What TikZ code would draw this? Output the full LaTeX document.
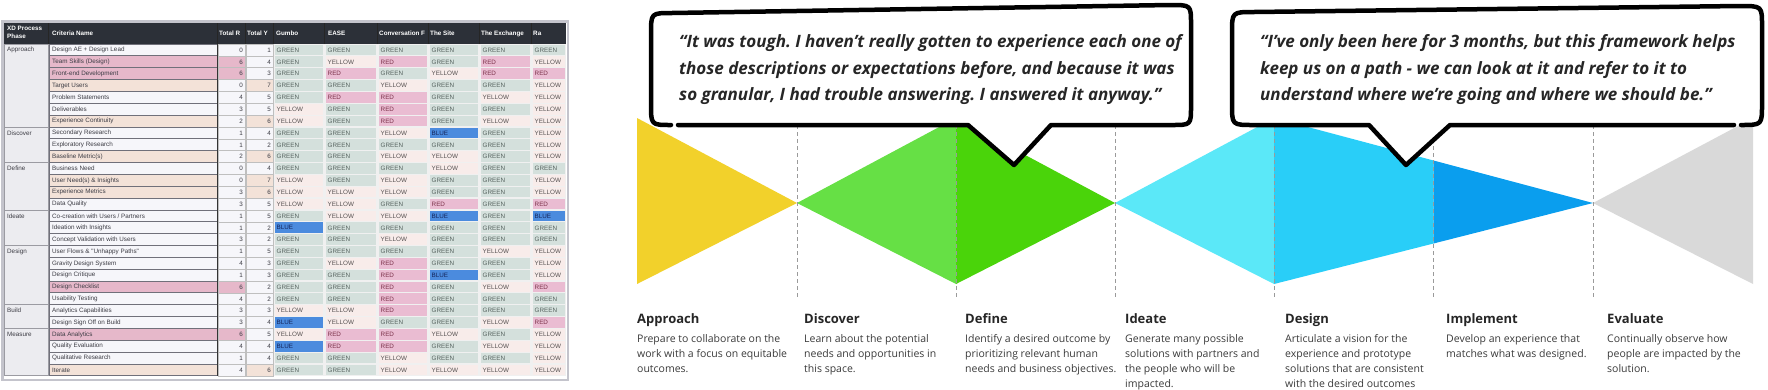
\documentclass[tikz,border=0pt]{standalone}
\usepackage{fontspec}
\setmainfont{Open Sans}
\newfontfamily\tabfont{Liberation Sans}
\frenchspacing
\definecolor{yellowT}{HTML}{F2D12B}
\definecolor{greenL}{HTML}{66E045}
\definecolor{greenD}{HTML}{4AD40A}
\definecolor{cyanL}{HTML}{5BE8F8}
\definecolor{cyanM}{HTML}{29CEF8}
\definecolor{blueD}{HTML}{0A9EEE}
\definecolor{grayT}{HTML}{D9D9D9}
\definecolor{dashC}{HTML}{9A9A9A}
\definecolor{descC}{HTML}{3A3A3A}
\definecolor{frameC}{HTML}{C4C4CC}
\definecolor{headC}{HTML}{2C3038}
\definecolor{phaseC}{HTML}{ECECF0}
\definecolor{gridD}{HTML}{70707A}
\definecolor{cellW}{HTML}{F6F6FA}
\definecolor{critP}{HTML}{E6B8CA}
\definecolor{critT}{HTML}{F3E2D8}
\definecolor{cellG}{HTML}{D4E0DC}
\definecolor{cellY}{HTML}{F8ECEA}
\definecolor{cellR}{HTML}{EABCD2}
\definecolor{cellB}{HTML}{4B8BDE}
\definecolor{txtG}{HTML}{55625E}
\definecolor{txtY}{HTML}{555050}
\definecolor{txtR}{HTML}{7A3048}
\definecolor{txtB}{HTML}{14245A}
\definecolor{tabText}{HTML}{3C3C44}
\def\lblG{GREEN}\def\lblY{YELLOW}\def\lblR{RED}\def\lblB{BLUE}
\tikzset{
  tabtxt/.style={font=\tabfont\fontsize{6.3}{7}\selectfont, inner sep=0pt, text=tabText},
  headtxt/.style={font=\tabfont\bfseries\fontsize{6.3}{7.5}\selectfont, inner sep=0pt, text=white, align=left},
  dashline/.style={draw=dashC, dash pattern=on 4pt off 3pt, line width=0.9pt},
  bubble/.style={fill=white, draw=black, line width=4.5pt, line cap=round, line join=round},
  quotetxt/.style={font=\fontsize{17}{26.5}\selectfont\bfseries\itshape, text=black!85, align=left, inner sep=0pt, anchor=west},
  phaselbl/.style={font=\fontsize{13}{15}\selectfont\bfseries, text=black!85, inner sep=0pt, anchor=base west},
  phasedesc/.style={font=\fontsize{10.5}{15}\selectfont, text=descC, inner sep=0pt, anchor=north west, align=left}
}
\begin{document}
\begin{tikzpicture}[x=1pt,y=-1pt]
\useasboundingbox (0,0) rectangle (1768,389);
% ================= TABLE =================
\fill[frameC] (1,20) rectangle (569,381);
\fill[white] (3.5,22.5) rectangle (566.5,378.5);
\fill[headC] (4,23) rectangle (566,44);
\foreach \xs in {48.5,217.5,245.5,273.5,324.5,377.5,428.5,479.5,531.5}
  \draw[black!85, line width=0.8pt] (\xs,23) -- (\xs,44);
\node[headtxt, anchor=north west] (hPhase) at (7,26) {XD Process\\Phase};
\node[headtxt, anchor=west] (hCrit) at (52,33.5) {Criteria Name};
\node[headtxt, anchor=west] (hR) at (219,33.5) {Total R};
\node[headtxt, anchor=west] (hY) at (247,33.5) {Total Y};
\node[headtxt, anchor=west] (hGumbo) at (276,33.5) {Gumbo};
\node[headtxt, anchor=west] (hEase) at (328,33.5) {EASE};
\node[headtxt, anchor=west] (hConv) at (379,33.5) {Conversation F};
\node[headtxt, anchor=west] (hSite) at (430,33.5) {The Site};
\node[headtxt, anchor=west] (hExch) at (481,33.5) {The Exchange};
\node[headtxt, anchor=west] (hRa) at (533,33.5) {Ra};
% value area background
\fill[black!6] (274,44) rectangle (566,376);
% phase groups
\foreach \ph/\fa/\fb in {Approach/1/7, Discover/8/10, Define/11/14, Ideate/15/17, Design/18/22, Build/23/24, Measure/25/28}{
  \pgfmathsetmacro\gt{44+(\fa-1)*11.85}
  \pgfmathsetmacro\gb{44+\fb*11.85}
  \path[fill=phaseC, draw=gridD!70, line width=0.7pt] (4,\gt) rectangle (48,\gb);
  \node[tabtxt, anchor=west] (ph\ph) at (7,\gt+6) {\ph};
}
% rows
\foreach [count=\i] \nm/\vR/\vY/\ka/\kb/\kc/\kd/\ke/\kf in {
{Design AE + Design Lead}/0/1/G/G/G/G/G/G,
{Team Skills (Design)}/6/4/G/Y/R/G/R/Y,
{Front-end Development}/6/3/G/R/G/Y/R/R,
{Target Users}/0/7/G/G/Y/G/G/Y,
{Problem Statements}/4/5/G/R/R/G/Y/Y,
{Deliverables}/3/5/Y/G/R/G/G/Y,
{Experience Continuity}/2/6/Y/G/R/G/Y/Y,
{Secondary Research}/1/4/G/G/Y/B/G/Y,
{Exploratory Research}/1/2/G/G/G/G/G/Y,
{Baseline Metric(s)}/2/6/G/G/Y/Y/G/Y,
{Business Need}/0/4/G/G/G/Y/G/G,
{User Need(s) \& Insights}/0/7/Y/G/Y/G/G/Y,
{Experience Metrics}/3/6/Y/Y/Y/G/G/Y,
{Data Quality}/3/5/Y/Y/G/R/G/R,
{Co-creation with Users / Partners}/1/5/G/Y/Y/B/G/B,
{Ideation with Insights}/1/2/B/G/G/G/G/G,
{Concept Validation with Users}/3/2/G/G/Y/G/G/G,
{User Flows \& "Unhappy Paths"}/1/5/G/G/G/G/Y/Y,
{Gravity Design System}/4/3/G/Y/R/G/G/Y,
{Design Critique}/1/3/G/G/R/B/G/Y,
{Design Checklist}/6/2/G/G/R/G/Y/R,
{Usability Testing}/4/2/G/G/R/G/G/G,
{Analytics Capabilities}/3/3/Y/Y/R/G/G/G,
{Design Sign Off on Build}/3/4/B/Y/G/G/Y/R,
{Data Analytics}/6/5/Y/R/R/Y/G/Y,
{Quality Evaluation}/4/4/B/R/R/G/Y/Y,
{Qualitative Research}/1/4/G/G/Y/G/G/Y,
{Iterate}/4/6/G/G/Y/Y/Y/Y}{
  \pgfmathsetmacro\yt{44+(\i-1)*11.85}
  \pgfmathsetmacro\yb{\yt+11.85}
  \pgfmathsetmacro\ym{\yt+6.1}
  \ifnum\vR>5 \def\critcol{critP}\def\rcol{critP}\else\def\rcol{cellW}\ifnum\vY>5 \def\critcol{critT}\else\def\critcol{cellW}\fi\fi
  \ifnum\vY>5 \def\ycol{critT}\else\def\ycol{cellW}\fi
  \path[fill=\critcol, draw=gridD, line width=0.8pt] (49.5,\yt) rectangle (217,\yb);
  \node[tabtxt, anchor=west] (crit\i) at (52,\ym) {\nm};
  \path[fill=\rcol, draw=black!25, line width=0.5pt] (218,\yt) rectangle (245,\yb);
  \path[fill=\ycol, draw=black!25, line width=0.5pt] (246,\yt) rectangle (273,\yb);
  \node[tabtxt, anchor=east] (totR\i) at (243,\ym) {\vR};
  \node[tabtxt, anchor=east] (totY\i) at (271,\ym) {\vY};
  \foreach \k/\xl/\xr in {\ka/274/324, \kb/325/377, \kc/378/428, \kd/429/479, \ke/480/531, \kf/532/566}{
    \edef\cellc{cell\k}\edef\txtc{txt\k}
    \path[fill=\cellc] (\xl+0.6,\yt+0.6) rectangle (\xr-0.6,\yb-0.6);
    \node[tabtxt, anchor=west, text=\txtc] (v\i-\xl) at (\xl+2.5,\ym) {\csname lbl\k\endcsname};
  }
}
\draw[black!80, line width=1pt] (217.5,44) -- (217.5,376);
% ================= PROCESS SHAPES =================
\fill[yellowT] (637,118) -- (797,203) -- (637,284) -- cycle;
\fill[greenL] (797,203) -- (956,118) -- (956,284) -- cycle;
\fill[greenD] (956,118) -- (1115,203) -- (956,284) -- cycle;
\fill[cyanL] (1115,203) -- (1274,118) -- (1274,284) -- cycle;
\fill[cyanM] (1274,118) -- (1433.5,160.5) -- (1433.5,243.5) -- (1274,284) -- cycle;
\fill[blueD] (1433.5,160.5) -- (1593,203) -- (1433.5,243.5) -- cycle;
\fill[grayT] (1593,203) -- (1753,118) -- (1753,284) -- cycle;
\foreach \xs in {797,956,1115,1274,1433.5,1593}
  \draw[dashline] (\xs,118) -- (\xs,298);
% ================= BUBBLES =================
\filldraw[bubble] (678,125) -- (968,125) -- (1014,165) -- (1051,125) -- (1172,125)
  .. controls (1191,125) .. (1191,106) -- (1191,24) .. controls (1191,5) .. (1170,5)
  -- (672,13) .. controls (651,13) .. (651,34) -- (651,104) .. controls (651,125) .. (671,125);
\filldraw[bubble] (1741,125) .. controls (1762,125) .. (1762,104) -- (1762,26)
  .. controls (1762,6) .. (1740,6) -- (1254,12) .. controls (1232,12) .. (1232,33)
  -- (1232,104) .. controls (1232,125) .. (1253,125) -- (1369,125) -- (1406,165)
  -- (1450,125) -- (1734,125);
\node[quotetxt] (q1) at (679,70) {“It was tough. I haven’t really gotten to experience each one of\\those descriptions or expectations before, and because it was\\so granular, I had trouble answering. I answered it anyway.”};
\node[quotetxt] (q2) at (1260,70) {“I’ve only been here for 3 months, but this framework helps\\keep us on a path - we can look at it and refer to it to\\understand where we’re going and where we should be.”};
% ================= LABELS =================
\node[phaselbl] (lApproach) at (637,323) {Approach};
\node[phaselbl] (lDiscover) at (804,323) {Discover};
\node[phaselbl] (lDefine) at (965,323) {Define};
\node[phaselbl] (lIdeate) at (1125,323) {Ideate};
\node[phaselbl] (lDesign) at (1285,323) {Design};
\node[phaselbl] (lImplement) at (1446,323) {Implement};
\node[phaselbl] (lEvaluate) at (1607,323) {Evaluate};
\node[phasedesc] (dApproach) at (637,334) {Prepare to collaborate on the\\work with a focus on equitable\\outcomes.};
\node[phasedesc] (dDiscover) at (804,334) {Learn about the potential\\needs and opportunities in\\this space.};
\node[phasedesc] (dDefine) at (965,334) {Identify a desired outcome by\\prioritizing relevant human\\needs and business objectives.};
\node[phasedesc] (dIdeate) at (1125,334) {Generate many possible\\solutions with partners and\\the people who will be\\impacted.};
\node[phasedesc] (dDesign) at (1285,334) {Articulate a vision for the\\experience and prototype\\solutions that are consistent\\with the desired outcomes};
\node[phasedesc] (dImplement) at (1446,334) {Develop an experience that\\matches what was designed.};
\node[phasedesc] (dEvaluate) at (1607,334) {Continually observe how\\people are impacted by the\\solution.};
\end{tikzpicture}
\end{document}
